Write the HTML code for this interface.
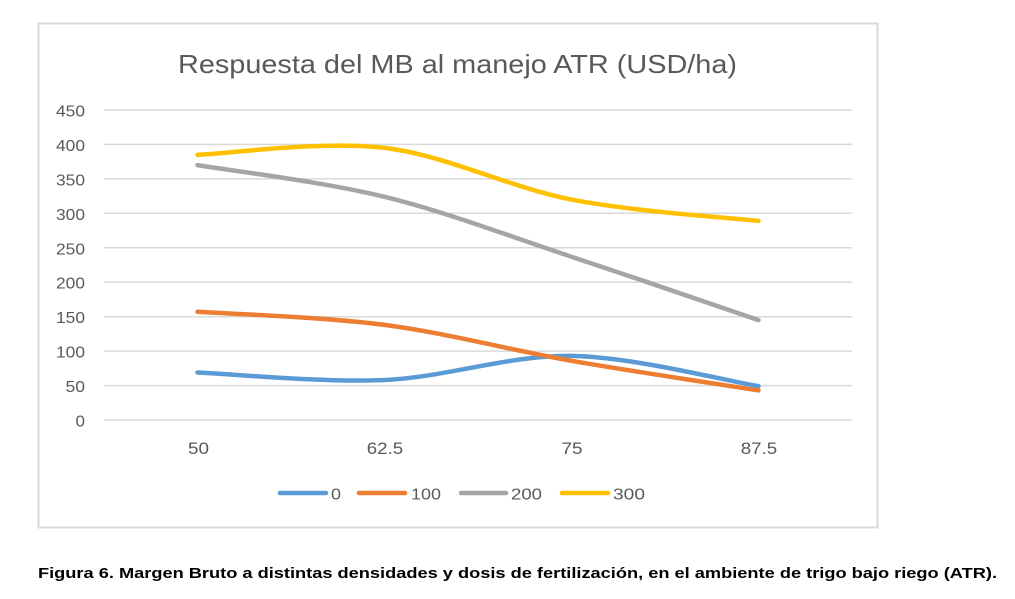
<!DOCTYPE html>
<html>
<head>
<meta charset="utf-8">
<style>
  html, body { margin: 0; padding: 0; background: #ffffff; }
  body { width: 1015px; height: 599px; overflow: hidden; }
  svg { display: block; }
  text { font-family: "Liberation Sans", "DejaVu Sans", sans-serif; }
</style>
</head>
<body>
<svg width="1015" height="599" viewBox="0 0 1015 599" xmlns="http://www.w3.org/2000/svg">
  <rect x="0" y="0" width="1015" height="599" fill="#ffffff"/>
  <!-- chart border -->
  <rect x="38.5" y="23.5" width="839" height="504" fill="#ffffff" stroke="#d9d9d9" stroke-width="2"/>

  <!-- title -->
  <text x="178" y="73" font-size="26" fill="#595959" textLength="559" lengthAdjust="spacingAndGlyphs">Respuesta del MB al manejo ATR (USD/ha)</text>

  <!-- gridlines -->
  <g stroke="#d9d9d9" stroke-width="1.5">
    <line x1="104" y1="110" x2="852" y2="110"/>
    <line x1="104" y1="144.4" x2="852" y2="144.4"/>
    <line x1="104" y1="178.9" x2="852" y2="178.9"/>
    <line x1="104" y1="213.3" x2="852" y2="213.3"/>
    <line x1="104" y1="247.8" x2="852" y2="247.8"/>
    <line x1="104" y1="282.2" x2="852" y2="282.2"/>
    <line x1="104" y1="316.7" x2="852" y2="316.7"/>
    <line x1="104" y1="351.1" x2="852" y2="351.1"/>
    <line x1="104" y1="385.6" x2="852" y2="385.6"/>
    <line x1="104" y1="420" x2="852" y2="420"/>
  </g>

  <!-- y tick labels -->
  <g font-size="16" fill="#595959" text-anchor="end">
    <text x="85" y="116.5" textLength="29" lengthAdjust="spacingAndGlyphs">450</text>
    <text x="85" y="150.9" textLength="29" lengthAdjust="spacingAndGlyphs">400</text>
    <text x="85" y="185.4" textLength="29" lengthAdjust="spacingAndGlyphs">350</text>
    <text x="85" y="219.8" textLength="29" lengthAdjust="spacingAndGlyphs">300</text>
    <text x="85" y="254.3" textLength="29" lengthAdjust="spacingAndGlyphs">250</text>
    <text x="85" y="288.7" textLength="29" lengthAdjust="spacingAndGlyphs">200</text>
    <text x="85" y="323.2" textLength="29" lengthAdjust="spacingAndGlyphs">150</text>
    <text x="85" y="357.6" textLength="29" lengthAdjust="spacingAndGlyphs">100</text>
    <text x="85" y="392.1" textLength="19.5" lengthAdjust="spacingAndGlyphs">50</text>
    <text x="85" y="426.5" textLength="9.5" lengthAdjust="spacingAndGlyphs">0</text>
  </g>

  <!-- x labels -->
  <g font-size="16.5" fill="#595959" text-anchor="middle">
    <text x="198.5" y="454" textLength="21" lengthAdjust="spacingAndGlyphs">50</text>
    <text x="385" y="454" textLength="36.5" lengthAdjust="spacingAndGlyphs">62.5</text>
    <text x="572" y="454" textLength="21" lengthAdjust="spacingAndGlyphs">75</text>
    <text x="759" y="454" textLength="36.5" lengthAdjust="spacingAndGlyphs">87.5</text>
  </g>

  <!-- series -->
  <g fill="none" stroke-width="4.5" stroke-linecap="round" stroke-linejoin="round">
    <path stroke="#5B9BD5" d="M197.5,372.5 C228.67,373.75 322.17,382.77 384.5,380 C446.83,377.23 509.17,354.87 571.5,355.9 C633.83,356.93 727.33,381.15 758.5,386.2"/>
    <path stroke="#ED7D31" d="M197.5,311.8 C228.67,313.98 322.17,316.73 384.5,324.9 C446.83,333.07 509.17,349.88 571.5,360.8 C633.83,371.72 727.33,385.47 758.5,390.4"/>
    <path stroke="#A5A5A5" d="M197.5,165.1 C228.67,170.38 322.17,181.53 384.5,196.8 C446.83,212.07 509.17,236.15 571.5,256.7 C633.83,277.25 727.33,309.53 758.5,320.1"/>
    <path stroke="#FFC000" d="M197.5,154.8 C228.67,153.65 322.17,140.43 384.5,147.9 C446.83,155.37 509.17,187.43 571.5,199.6 C633.83,211.77 727.33,217.35 758.5,220.9"/>
  </g>

  <!-- legend -->
  <g stroke-width="4.5" stroke-linecap="round">
    <line x1="280" y1="493" x2="326" y2="493" stroke="#5B9BD5"/>
    <line x1="359" y1="493" x2="405" y2="493" stroke="#ED7D31"/>
    <line x1="461" y1="493" x2="506" y2="493" stroke="#A5A5A5"/>
    <line x1="562" y1="493" x2="608" y2="493" stroke="#FFC000"/>
  </g>
  <g font-size="16" fill="#595959">
    <text x="331" y="499.5" textLength="10" lengthAdjust="spacingAndGlyphs">0</text>
    <text x="411" y="499.5" textLength="30" lengthAdjust="spacingAndGlyphs">100</text>
    <text x="511" y="499.5" textLength="31" lengthAdjust="spacingAndGlyphs">200</text>
    <text x="613" y="499.5" textLength="32" lengthAdjust="spacingAndGlyphs">300</text>
  </g>

  <!-- caption -->
  <text x="38" y="578" font-size="15" font-weight="bold" fill="#000000" textLength="959" lengthAdjust="spacingAndGlyphs">Figura 6. Margen Bruto a distintas densidades y dosis de fertilización, en el ambiente de trigo bajo riego (ATR).</text>
</svg>
</body>
</html>
